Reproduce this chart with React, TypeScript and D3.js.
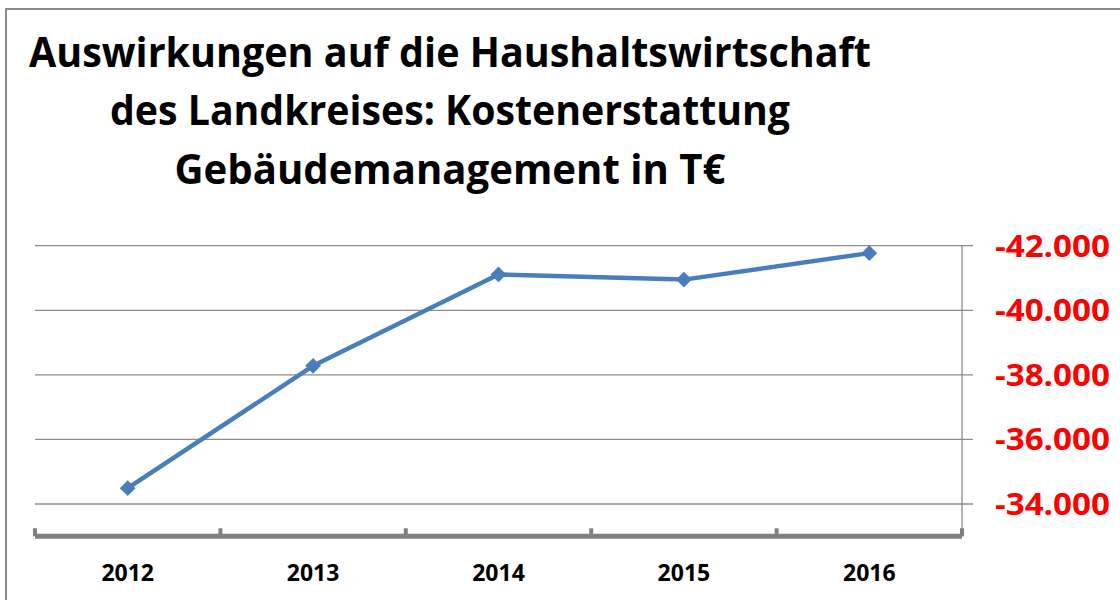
import React, { useRef, useEffect } from 'react';
import * as d3 from 'd3';

const years = ['2012', '2013', '2014', '2015', '2016'];
const costs = [-34490, -38280, -41110, -40950, -41770];
const yTicks = [-34000, -36000, -38000, -40000, -42000];
const titleLines = [
  'Auswirkungen auf die Haushaltswirtschaft',
  'des Landkreises: Kostenerstattung',
  'Gebäudemanagement in T€',
];

const W = 1120;
const H = 600;
const fmt = (v: number) => d3.format(',')(v).replace(/,/g, '.').replace('−', '-');

export default function App() {
  const ref = useRef<SVGSVGElement>(null);

  useEffect(() => {
    document.body.style.margin = '0';
    if (!ref.current) return;
    const svg = d3.select(ref.current);
    svg.selectAll('*').remove();

    svg.append('rect').attr('width', W).attr('height', H).attr('fill', '#fff');
    // chart frame, running off the picture on the right and bottom
    svg
      .append('rect')
      .attr('x', 6)
      .attr('y', 9)
      .attr('width', W + 50)
      .attr('height', H + 50)
      .attr('fill', 'none')
      .attr('stroke', '#8a8a8a')
      .attr('stroke-width', 2);

    // title
    const titleWidths = [842, 680, 551];
    const titleY = [67, 125, 184];
    titleLines.forEach((t, i) => {
      svg
        .append('text')
        .attr('x', 450)
        .attr('y', titleY[i])
        .attr('text-anchor', 'middle')
        .attr('textLength', titleWidths[i])
        .attr('lengthAdjust', 'spacingAndGlyphs')
        .style('font-family', '"Liberation Sans Narrow", "Open Sans", sans-serif')
        .style('font-weight', 700)
        .style('font-size', '42px')
        .attr('fill', '#000')
        .text(t);
    });

    const x = d3.scaleBand<string>().domain(years).range([35, 962]).padding(0);
    const y = d3.scaleLinear().domain([-33000, -42000]).range([536.3, 245.7]);

    // gridlines
    svg
      .selectAll('line.grid')
      .data(yTicks)
      .enter()
      .append('line')
      .attr('class', 'grid')
      .attr('x1', 35)
      .attr('x2', 973)
      .attr('y1', d => y(d))
      .attr('y2', d => y(d))
      .attr('stroke', '#8c8c8c')
      .attr('stroke-width', 1.3);

    // right value axis line
    svg
      .append('line')
      .attr('x1', 962)
      .attr('x2', 962)
      .attr('y1', y(-42000))
      .attr('y2', y(-33000))
      .attr('stroke', '#8c8c8c')
      .attr('stroke-width', 1.3);

    // value labels
    svg
      .selectAll('text.ylab')
      .data(yTicks)
      .enter()
      .append('text')
      .attr('class', 'ylab')
      .attr('x', 995)
      .attr('y', d => y(d))
      .attr('dy', '0.36em')
      .attr('textLength', 115)
      .attr('lengthAdjust', 'spacingAndGlyphs')
      .style('font-family', '"Open Sans", sans-serif')
      .style('font-weight', 700)
      .style('font-size', '30px')
      .attr('fill', '#ff0000')
      .text(d => fmt(d));

    // category axis
    const axisY = y(-33000);
    svg
      .append('line')
      .attr('x1', 35)
      .attr('x2', 962)
      .attr('y1', axisY)
      .attr('y2', axisY)
      .attr('stroke', '#808080')
      .attr('stroke-width', 5);
    const edges = years.map(d => x(d) as number).concat([962]);
    svg
      .selectAll('line.tick')
      .data(edges)
      .enter()
      .append('line')
      .attr('class', 'tick')
      .attr('x1', d => d)
      .attr('x2', d => d)
      .attr('y1', axisY - 8)
      .attr('y2', axisY)
      .attr('stroke', '#808080')
      .attr('stroke-width', 4);

    svg
      .selectAll('text.xlab')
      .data(years)
      .enter()
      .append('text')
      .attr('class', 'xlab')
      .attr('x', d => (x(d) as number) + x.bandwidth() / 2)
      .attr('y', 581)
      .attr('text-anchor', 'middle')
      .style('font-family', '"Open Sans", sans-serif')
      .style('font-weight', 700)
      .style('font-size', '23px')
      .attr('fill', '#000')
      .text(d => d);

    // series
    const cx = (i: number) => (x(years[i]) as number) + x.bandwidth() / 2;
    const line = d3
      .line<number>()
      .x((_, i) => cx(i))
      .y(d => y(d));
    svg
      .append('path')
      .datum(costs)
      .attr('d', line)
      .attr('fill', 'none')
      .attr('stroke', '#4a7ebb')
      .attr('stroke-width', 4.5)
      .attr('stroke-linejoin', 'round');

    const diamond = d3.symbol().type(d3.symbolSquare).size(125);
    svg
      .selectAll('path.marker')
      .data(costs)
      .enter()
      .append('path')
      .attr('class', 'marker')
      .attr('d', diamond)
      .attr('transform', (d, i) => `translate(${cx(i)},${y(d)}) rotate(45)`)
      .attr('fill', '#4a7ebb');
  }, []);

  return (
    <svg
      ref={ref}
      width={W}
      height={H}
      style={{ position: 'absolute', left: 0, top: 0, display: 'block' }}
    />
  );
}
